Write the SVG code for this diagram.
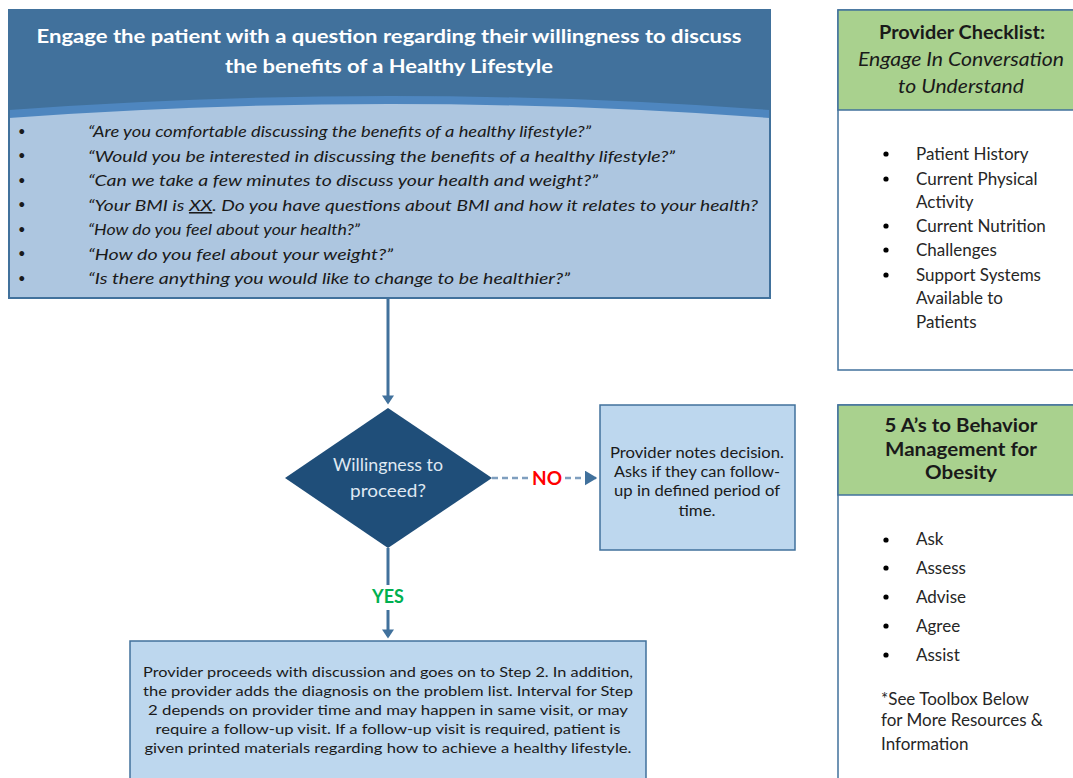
<svg xmlns="http://www.w3.org/2000/svg" width="1073" height="778" viewBox="0 0 1073 778">
<defs>
<marker id="ah" markerWidth="4" markerHeight="4" refX="2.2" refY="2" orient="auto" markerUnits="strokeWidth"><path d="M0,0 L3,2 L0,4 Z" fill="#41719c"/></marker>
<marker id="ahd" markerWidth="6" markerHeight="6" refX="4.5" refY="3" orient="auto" markerUnits="strokeWidth"><path d="M0,0 L5,3 L0,6 Z" fill="#41719c"/></marker>
</defs>
<style>
text{font-family:Lato,"Open Sans","Liberation Sans",sans-serif}
.hdr{fill:#fff;font-weight:bold;font-size:19.5px;text-anchor:middle}
.q{fill:#1a1a1a;font-style:italic;font-size:15.5px}
.bul{fill:#1a1a1a;font-size:13px}
.gt{fill:#1a1a1a;font-size:19px;text-anchor:middle}
.li{fill:#262626;font-size:17px}
.dot{fill:#000}
.body{fill:#1a1a1a;font-size:13px;text-anchor:middle}
.nb{fill:#1a1a1a;font-size:14.5px;text-anchor:middle}
.box{fill:#bdd7ee;stroke:#41719c;stroke-width:1.5}
.side{fill:#fff;stroke:#41719c;stroke-width:1.5}
.green{fill:#a9d18e;stroke:#41719c;stroke-width:1.5}
.conn{stroke:#41719c;stroke-width:3;fill:none}
</style>

<g id="top-box">
<rect x="9" y="10" width="761" height="288" fill="#41719c"/>
<path d="M9,110 Q389,82 770,110 L770,120 Q389,92 9,120 Z" fill="#4e86bf"/>
<path d="M9,118 Q389,90 770,118 L770,298 L9,298 Z" fill="#adc6e0"/>
<rect x="9" y="10" width="761" height="288" fill="none" stroke="#41719c" stroke-width="2"/>
<text class="hdr" x="389" y="43" textLength="705" lengthAdjust="spacingAndGlyphs">Engage the patient with a question regarding their willingness to discuss</text>
<text class="hdr" x="389" y="73" textLength="328" lengthAdjust="spacingAndGlyphs">the benefits of a Healthy Lifestyle</text>
<g class="bul">
<text x="18" y="136">•</text><text x="18" y="160">•</text><text x="18" y="185">•</text><text x="18" y="209">•</text><text x="18" y="234">•</text><text x="18" y="258">•</text><text x="18" y="283">•</text>
</g>
<text class="q" x="88" y="137" textLength="503" lengthAdjust="spacingAndGlyphs">“Are you comfortable discussing the benefits of a healthy lifestyle?”</text>
<text class="q" x="88" y="162" textLength="587" lengthAdjust="spacingAndGlyphs">“Would you be interested in discussing the benefits of a healthy lifestyle?”</text>
<text class="q" x="88" y="186" textLength="510" lengthAdjust="spacingAndGlyphs">“Can we take a few minutes to discuss your health and weight?”</text>
<text class="q" x="88" y="211" textLength="670" lengthAdjust="spacingAndGlyphs">“Your BMI is <tspan text-decoration="underline">XX</tspan>. Do you have questions about BMI and how it relates to your health?</text>
<text class="q" x="88" y="235" textLength="272" lengthAdjust="spacingAndGlyphs">“How do you feel about your health?”</text>
<text class="q" x="88" y="260" textLength="305" lengthAdjust="spacingAndGlyphs">“How do you feel about your weight?”</text>
<text class="q" x="88" y="284" textLength="482" lengthAdjust="spacingAndGlyphs">“Is there anything you would like to change to be healthier?”</text>
</g>

<g id="checklist">
<rect class="side" x="838" y="10" width="245" height="360"/>
<rect class="green" x="838" y="10" width="245" height="100"/>
<text class="gt" x="962" y="39" font-weight="bold" textLength="166" lengthAdjust="spacingAndGlyphs">Provider Checklist:</text>
<text class="gt" x="961" y="66" font-style="italic" textLength="206" lengthAdjust="spacingAndGlyphs">Engage In Conversation</text>
<text class="gt" x="961" y="93" font-style="italic" textLength="126" lengthAdjust="spacingAndGlyphs">to Understand</text>
<circle class="dot" cx="886" cy="154" r="2.6"/>
<circle class="dot" cx="886" cy="179" r="2.6"/>
<circle class="dot" cx="886" cy="226" r="2.6"/>
<circle class="dot" cx="886" cy="250" r="2.6"/>
<circle class="dot" cx="886" cy="275" r="2.6"/>
<text class="li" x="916" y="160">Patient History</text>
<text class="li" x="916" y="185">Current Physical</text>
<text class="li" x="916" y="208">Activity</text>
<text class="li" x="916" y="232">Current Nutrition</text>
<text class="li" x="916" y="256">Challenges</text>
<text class="li" x="916" y="281">Support Systems</text>
<text class="li" x="916" y="304">Available to</text>
<text class="li" x="916" y="328">Patients</text>
</g>

<g id="five-as">
<rect class="side" x="838" y="405" width="245" height="390"/>
<rect class="green" x="838" y="405" width="245" height="90"/>
<text class="gt" x="961" y="432" font-weight="bold" textLength="153" lengthAdjust="spacingAndGlyphs">5 A’s to Behavior</text>
<text class="gt" x="961" y="456" font-weight="bold" textLength="152" lengthAdjust="spacingAndGlyphs">Management for</text>
<text class="gt" x="961" y="479" font-weight="bold" textLength="72" lengthAdjust="spacingAndGlyphs">Obesity</text>
<circle class="dot" cx="886" cy="540" r="2.6"/>
<circle class="dot" cx="886" cy="568" r="2.6"/>
<circle class="dot" cx="886" cy="597" r="2.6"/>
<circle class="dot" cx="886" cy="626" r="2.6"/>
<circle class="dot" cx="886" cy="655" r="2.6"/>
<text class="li" x="916" y="545">Ask</text>
<text class="li" x="916" y="574">Assess</text>
<text class="li" x="916" y="603">Advise</text>
<text class="li" x="916" y="632">Agree</text>
<text class="li" x="916" y="661">Assist</text>
<text class="li" x="881" y="705" font-size="14.5">*See Toolbox Below</text>
<text class="li" x="881" y="726" font-size="14.5">for More Resources &amp;</text>
<text class="li" x="881" y="750" font-size="14.5">Information</text>
</g>

<g id="connectors">
<line class="conn" x1="388" y1="298" x2="388" y2="402" marker-end="url(#ah)"/>
<line x1="492" y1="478" x2="530" y2="478" stroke="#7f9fbf" stroke-width="2.5" stroke-dasharray="6,4"/>
<line x1="565" y1="478" x2="596" y2="478" stroke="#7f9fbf" stroke-width="2.5" stroke-dasharray="6,4" marker-end="url(#ahd)"/>
<line class="conn" x1="388" y1="548" x2="388" y2="585"/>
<line class="conn" x1="388" y1="610" x2="388" y2="636" marker-end="url(#ah)"/>
<text x="547" y="485" font-size="19" font-weight="bold" fill="#ff0000" text-anchor="middle">NO</text>
<text x="388" y="603" font-size="18" font-weight="bold" fill="#00b050" text-anchor="middle">YES</text>
</g>

<g id="decision">
<polygon points="388,408 492,478 388,548 285,478" fill="#1f4e79"/>
<text x="388" y="471" font-size="16.5" fill="#dfe8f2" text-anchor="middle" textLength="110" lengthAdjust="spacingAndGlyphs">Willingness to</text>
<text x="388" y="497" font-size="16.5" fill="#dfe8f2" text-anchor="middle" textLength="76" lengthAdjust="spacingAndGlyphs">proceed?</text>
</g>

<g id="no-box">
<rect class="box" x="600" y="405" width="195" height="145"/>
<text class="nb" x="697" y="458" textLength="174" lengthAdjust="spacingAndGlyphs">Provider notes decision.</text>
<text class="nb" x="697" y="477" textLength="166" lengthAdjust="spacingAndGlyphs">Asks if they can follow-</text>
<text class="nb" x="697" y="496" textLength="166" lengthAdjust="spacingAndGlyphs">up in defined period of</text>
<text class="nb" x="697" y="516" textLength="37" lengthAdjust="spacingAndGlyphs">time.</text>
</g>

<g id="step-box">
<rect class="box" x="130" y="641" width="516" height="150"/>
<text class="body" x="388" y="677" textLength="490" lengthAdjust="spacingAndGlyphs">Provider proceeds with discussion and goes on to Step 2. In addition,</text>
<text class="body" x="388" y="696" textLength="490" lengthAdjust="spacingAndGlyphs">the provider adds the diagnosis on the problem list. Interval for Step</text>
<text class="body" x="388" y="715" textLength="480" lengthAdjust="spacingAndGlyphs">2 depends on provider time and may happen in same visit, or may</text>
<text class="body" x="388" y="734" textLength="465" lengthAdjust="spacingAndGlyphs">require a follow-up visit. If a follow-up visit is required, patient is</text>
<text class="body" x="388" y="753" textLength="487" lengthAdjust="spacingAndGlyphs">given printed materials regarding how to achieve a healthy lifestyle.</text>
</g>
</svg>
